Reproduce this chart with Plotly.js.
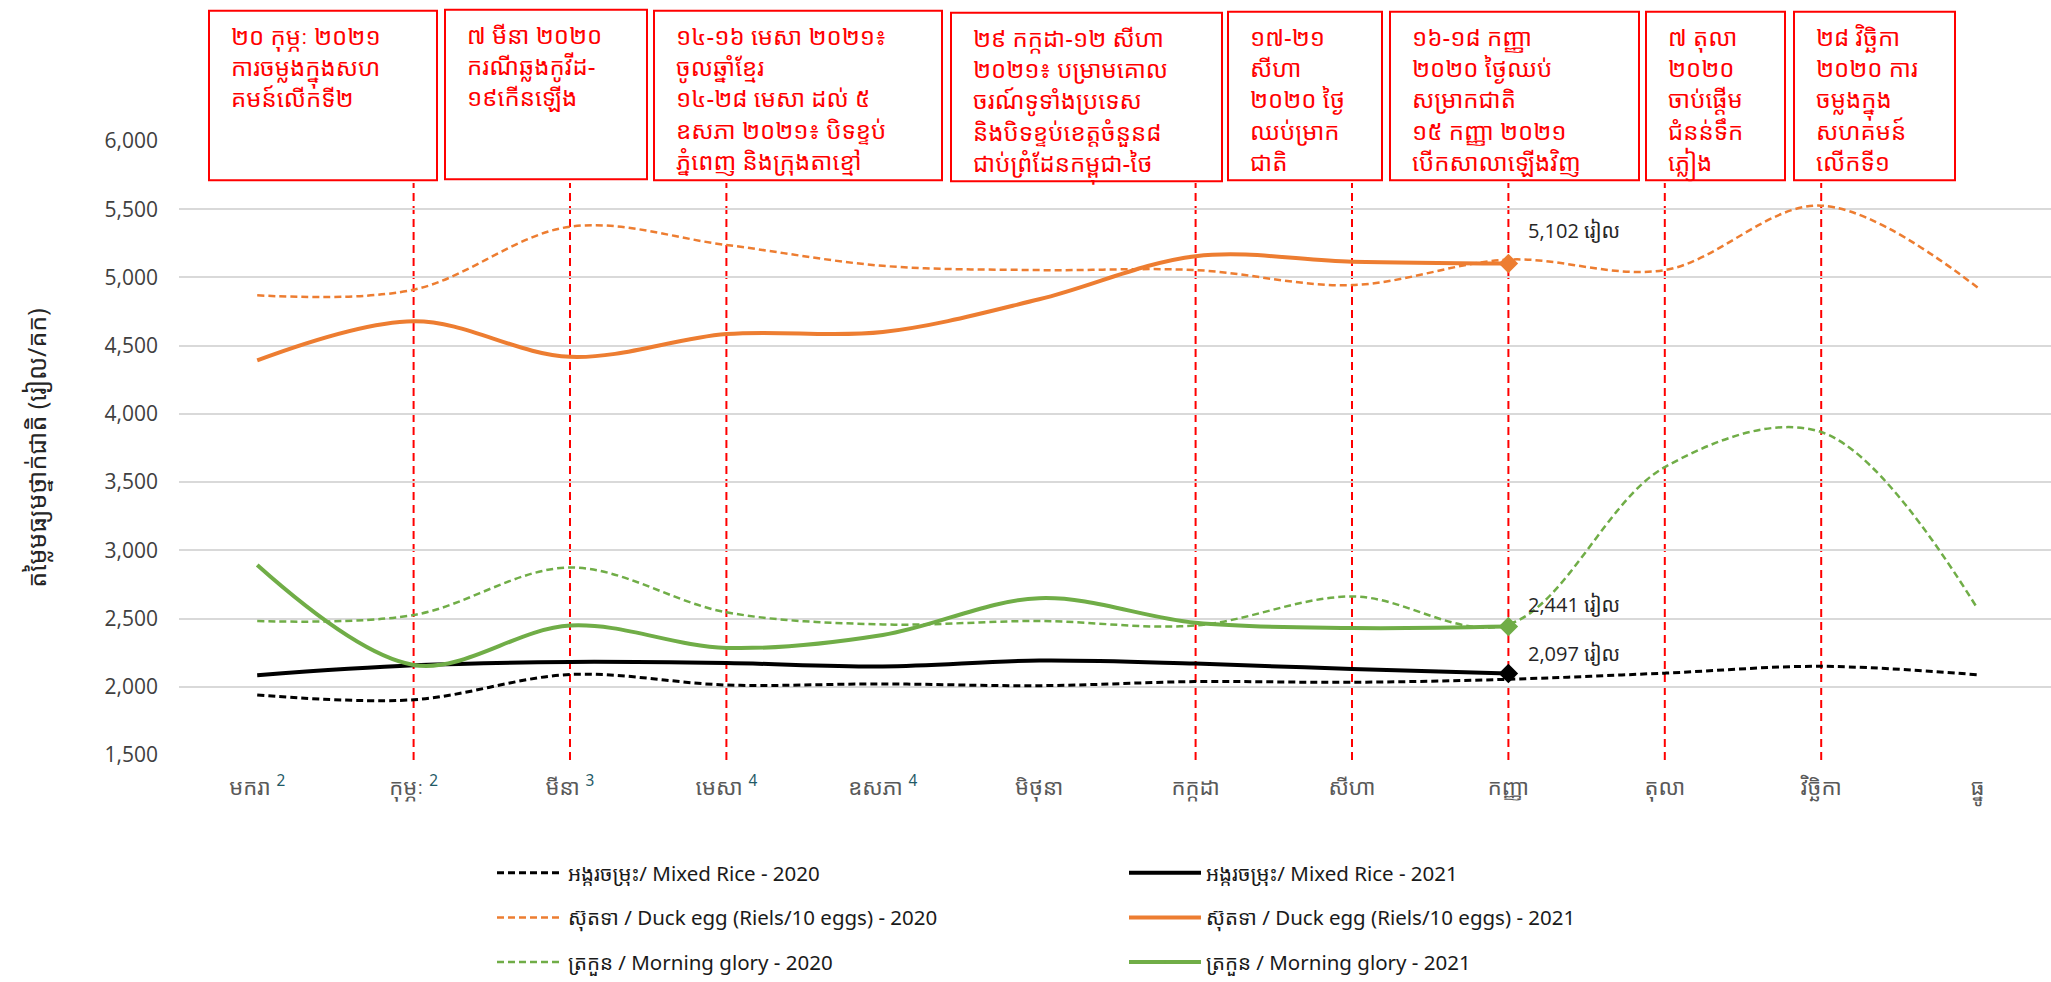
<!DOCTYPE html>
<html>
<head>
<meta charset="utf-8">
<script src="https://cdn.plot.ly/plotly-3.0.1.min.js"></script>
<style>
html,body{margin:0;padding:0;background:#fff;}
#chart{width:2051px;height:982px;}
</style>
</head>
<body>
<div id="chart"></div>
<script>
// ---------- DATA ----------
const months = ['មករា','កុម្ភៈ','មីនា','មេសា','ឧសភា','មិថុនា','កក្កដា','សីហា','កញ្ញា','តុលា','វិច្ឆិកា','ធ្នូ'];
const monthNotes = ['2','2','3','4','4','','','','','','',''];

const rice2020 = [1940, 1905, 2090, 2013, 2021, 2008, 2038, 2033, 2055, 2100, 2150, 2088];
const rice2021 = [2085, 2157, 2182, 2174, 2149, 2192, 2170, 2130, 2097];
const duck2020 = [4869, 4910, 5372, 5238, 5085, 5054, 5054, 4944, 5131, 5054, 5526, 4926];
const duck2021 = [4392, 4679, 4418, 4585, 4600, 4840, 5156, 5115, 5102];
const mg2020   = [2482, 2526, 2874, 2546, 2457, 2482, 2449, 2662, 2457, 3610, 3867, 2572];
const mg2021   = [2892, 2160, 2449, 2285, 2380, 2649, 2469, 2431, 2441];

const seriesNames = {
  rice2020: 'អង្ករចម្រុះ/ Mixed Rice - 2020',
  rice2021: 'អង្ករចម្រុះ/ Mixed Rice - 2021',
  duck2020: 'ស៊ុតទា / Duck egg (Riels/10 eggs) - 2020',
  duck2021: 'ស៊ុតទា / Duck egg (Riels/10 eggs) - 2021',
  mg2020: 'ត្រកួន / Morning glory - 2020',
  mg2021: 'ត្រកួន / Morning glory - 2021'
};

const yTitle = 'តម្លៃមធ្យមថ្នាក់ជាតិ (រៀល/គក)';
const unitLabel = 'រៀល';

// event markers (month index) and their notes
const eventMonths = [1, 2, 3, 6, 7, 8, 9, 10];
const eventTexts = [
  '២០ កុម្ភៈ ២០២១<br>ការចម្លងក្នុងសហ<br>គមន៍លើកទី២',
  '៧ មីនា ២០២០<br>ករណីឆ្លងកូវីដ-<br>១៩កើនឡើង',
  '១៤-១៦ មេសា ២០២១៖<br>ចូលឆ្នាំខ្មែរ<br>១៤-២៨ មេសា ដល់ ៥<br>ឧសភា ២០២១៖ បិទខ្ទប់<br>ភ្នំពេញ និងក្រុងតាខ្មៅ',
  '២៩ កក្កដា-១២ សីហា<br>២០២១៖ បម្រាមគោល<br>ចរណ៍ទូទាំងប្រទេស<br>និងបិទខ្ទប់ខេត្តចំនួន៨<br>ជាប់ព្រំដែនកម្ពុជា-ថៃ',
  '១៧-២១<br>សីហា<br>២០២០ ថ្ងៃ<br>ឈប់ម្រាក<br>ជាតិ',
  '១៦-១៨ កញ្ញា<br>២០២០ ថ្ងៃឈប់<br>សម្រាកជាតិ<br>១៥ កញ្ញា ២០២១<br>បើកសាលាឡើងវិញ',
  '៧ តុលា<br>២០២០<br>ចាប់ផ្ដើម<br>ជំនន់ទឹក<br>ភ្លៀង',
  '២៨ វិច្ឆិកា<br>២០២០ ការ<br>ចម្លងក្នុង<br>សហគមន៍<br>លើកទី១'
];

// ---------- LAYOUT GEOMETRY (pixels) ----------
const W = 2051, H = 982, L = 179, T = 141, PW = 1872, PH = 627;
const px = x => (x - L) / PW;
const py = y => (T + PH - y) / PH;
// note boxes: [left, top, right, bottom]
const boxes = [
  [209, 8, 437, 181],
  [445, 7, 647, 180],
  [654, 8, 942, 181],
  [951, 10, 1222, 182],
  [1228, 9, 1382, 181],
  [1390, 9, 1639, 181],
  [1646, 9, 1785, 181],
  [1794, 9, 1955, 181]
];

const KH = '"Noto Sans Khmer", "Khmer OS", "Khmer OS System", "Noto Sans", "Open Sans", sans-serif';
const NUM = '"Open Sans", "Noto Sans Khmer", sans-serif';

const xAll = months.map((m, i) => i);
const xPart = rice2021.map((v, i) => i);

const BLACK = '#000000', ORANGE = '#ED7D31', GREEN = '#70AD47';

function line2020(y, color, name, w, dash) {
  return {x: xAll, y: y, type: 'scatter', mode: 'lines', name: name,
    line: {color: color, width: w, dash: dash, shape: 'spline', smoothing: 1},
    legend: 'legend', legendgroup: name, hoverinfo: 'skip'};
}
function line2021(y, color, name) {
  const n = y.length;
  return {x: xPart, y: y, type: 'scatter', mode: 'lines+markers', name: name,
    line: {color: color, width: 4, shape: 'spline', smoothing: 1},
    marker: {symbol: 'diamond', size: y.map((v, i) => i === n - 1 ? 15 : 0), color: color,
             opacity: 1, line: {width: 0}},
    legend: 'legend2', legendgroup: name, hoverinfo: 'skip'};
}

const traces = [
  line2020(rice2020, BLACK, seriesNames.rice2020, 3, '7px,4px'),
  line2021(rice2021, BLACK, seriesNames.rice2021),
  line2020(duck2020, ORANGE, seriesNames.duck2020, 2.5, '7px,4px'),
  line2021(duck2021, ORANGE, seriesNames.duck2021),
  line2020(mg2020, GREEN, seriesNames.mg2020, 2.5, '7px,4px'),
  line2021(mg2021, GREEN, seriesNames.mg2021)
];

// shapes: note boxes + red dashed event lines
const shapes = [];
boxes.forEach(b => {
  shapes.push({type: 'rect', xref: 'paper', yref: 'paper',
    x0: px(b[0]), x1: px(b[2]), y0: py(b[3]), y1: py(b[1]),
    line: {color: '#FF0000', width: 2}, fillcolor: '#FFFFFF', layer: 'above'});
});
eventMonths.forEach(m => {
  shapes.push({type: 'line', xref: 'x', yref: 'paper', x0: m, x1: m,
    y0: py(773), y1: py(184),
    line: {color: '#FF0000', width: 2, dash: '8px,5px'}, layer: 'between'});
});

const annotations = [];
boxes.forEach((b, i) => {
  annotations.push({xref: 'paper', yref: 'paper', x: px(b[0] + 20), y: py(b[1] + 6),
    xanchor: 'left', yanchor: 'top', align: 'left', showarrow: false,
    text: eventTexts[i], font: {family: KH, size: 24, color: '#FF0000'}});
});
// end-value labels for 2021 series
[[duck2021, 33], [mg2021, 22], [rice2021, 20]].forEach(([arr, dy]) => {
  const i = arr.length - 1;
  annotations.push({xref: 'x', yref: 'y', x: i, y: arr[i], xanchor: 'left', yanchor: 'middle',
    xshift: 18, yshift: dy, showarrow: false,
    text: arr[i].toLocaleString('en-US') + ' ' + unitLabel,
    font: {family: NUM, size: 20, color: '#262626'}});
});

const tickText = months.map((m, i) => monthNotes[i]
  ? m + ' <sup><span style="color:#1F5A66">' + monthNotes[i] + '</span></sup>' : m);

const layout = {
  width: W, height: H,
  margin: {l: L, r: W - L - PW, t: T, b: H - T - PH, pad: 0},
  paper_bgcolor: '#FFFFFF', plot_bgcolor: '#FFFFFF',
  showlegend: true,
  xaxis: {
    range: [-0.5, -0.5 + PW / 156.4], tickvals: xAll, ticktext: tickText,
    showgrid: false, zeroline: false, showline: false, ticks: '',
    tickfont: {family: KH, size: 22, color: '#595959'}, ticklabelstandoff: 17,
    fixedrange: true
  },
  yaxis: {
    range: [1500, 6000], dtick: 500, tickformat: ',d',
    showgrid: true, gridcolor: '#D9D9D9', gridwidth: 2, zeroline: false, showline: false, ticks: '',
    tickfont: {family: NUM, size: 21, color: '#404040'}, ticklabelstandoff: 20,
    title: {text: yTitle, font: {family: KH, size: 25, color: '#262626'}, standoff: 50},
    fixedrange: true
  },
  legend: {
    x: px(492), y: py(868), xanchor: 'left', yanchor: 'top', orientation: 'v',
    itemwidth: 66, traceorder: 'grouped', tracegroupgap: 15,
    font: {family: KH, size: 20.5, color: '#1A1A1A'}, bgcolor: 'rgba(0,0,0,0)'
  },
  legend2: {
    x: px(1124), y: py(868), xanchor: 'left', yanchor: 'top', orientation: 'v',
    itemwidth: 72, traceorder: 'grouped', tracegroupgap: 15,
    font: {family: KH, size: 20.5, color: '#1A1A1A'}, bgcolor: 'rgba(0,0,0,0)'
  },
  shapes: shapes,
  annotations: annotations
};

Plotly.newPlot('chart', traces, layout, {displayModeBar: false, staticPlot: true});
</script>
</body>
</html>
